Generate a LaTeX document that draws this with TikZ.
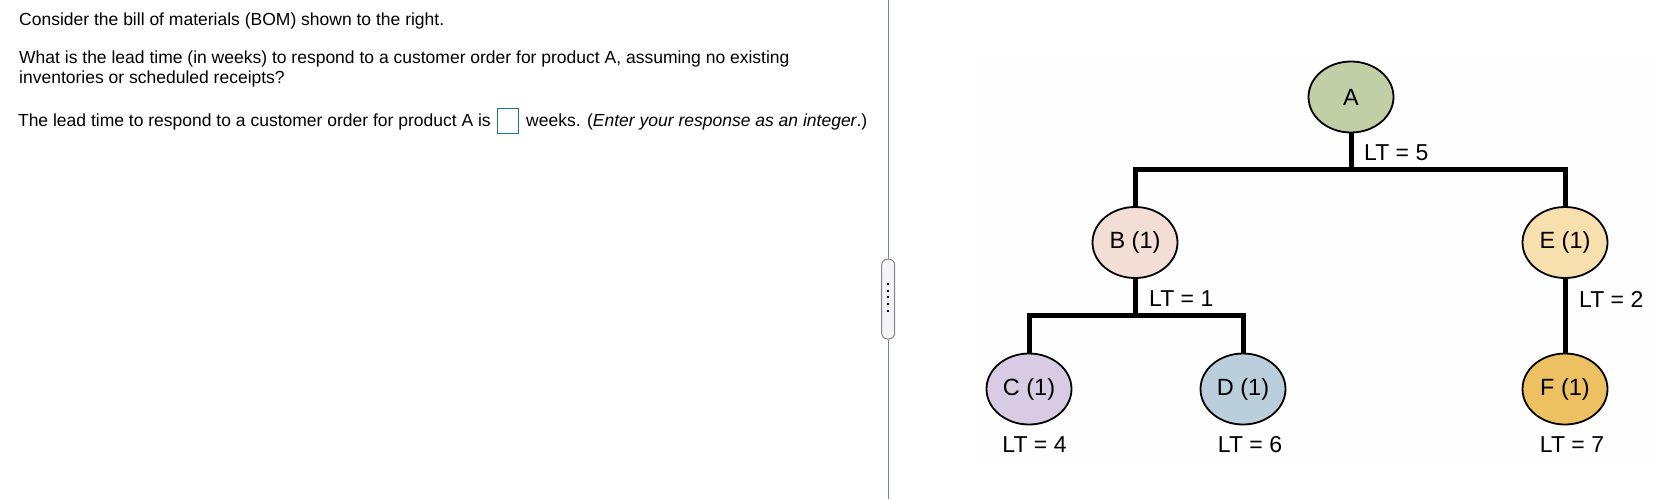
\documentclass[tikz,border=0pt]{standalone}
\usepackage{fontspec}
\setmainfont{Liberation Sans}
\usetikzlibrary{shapes.geometric}
\definecolor{colA}{RGB}{192,207,165}
\definecolor{colB}{RGB}{242,222,213}
\definecolor{colC}{RGB}{216,204,228}
\definecolor{colD}{RGB}{186,207,219}
\definecolor{colE}{RGB}{248,223,174}
\definecolor{colF}{RGB}{237,193,98}
\definecolor{divgray}{RGB}{124,133,145}
\definecolor{boxteal}{RGB}{26,122,154}
\definecolor{panel}{RGB}{254,254,254}
\tikzset{
    item/.style={ellipse, draw=black, line width=1.8pt, minimum width=85pt, minimum height=71pt, inner sep=0pt, font=\fontsize{23.5}{27}\selectfont},
    ltlabel/.style={inner sep=0pt, font=\fontsize{23}{27}\selectfont},
    link/.style={line width=5pt, line join=miter},
    question/.style={anchor=base west, inner sep=0pt, font=\fontsize{17.5}{20}\selectfont}
}
\begin{document}
\begin{tikzpicture}[x=1pt,y=-1pt]
        \useasboundingbox (0,0) rectangle (1655,499);
        \pgfmathsetmacro{\ytop}{169}
        \pgfmathsetmacro{\ymid}{315.5}

        % question text
        \node[question] (q1) at (19,25.7) {Consider the bill of materials (BOM) shown to the right.};
        \node[question] (q2) at (19,63.3) {What is the lead time (in weeks) to respond to a customer order for product A, assuming no existing};
        \node[question] (q3) at (19,83.3) {inventories or scheduled receipts?};
        \node[question, anchor=base east] (q4) at (491,126.7) {The lead time to respond to a customer order for product A is};
        \node[draw=boxteal, line width=1pt, minimum width=21pt, minimum height=25pt, inner sep=0pt] (answer) at (508,121.2) {};
        \node[question] (q5) at (526,126.7) {weeks. (\textit{Enter your response as an integer}.)};

        % divider with handle
        \node[draw=divgray, fill=black!4, line width=1pt, rounded corners=6pt, minimum width=13pt, minimum height=80pt, inner sep=0pt] (handle) at (888.2,299) {};
        \coordinate (divtop) at (888.2,0); \coordinate (divbot) at (888.2,499);
        \draw[divgray, line width=1pt] (divtop) -- (handle.north); \draw[divgray, line width=1pt] (handle.south) -- (divbot);
        \foreach \k in {0,...,4} \fill[blue!60!black] (887.2,282.7+6.8*\k) rectangle ++(2,2);

        % faint panel behind the tree
        \fill[panel] (972,53) rectangle (1655,468);

        % bill of materials
        \node[item, fill=colA] (A) at (1351,97) {A};
        \node[item, fill=colB] (B) at (1135,242.5) {B (1)};
        \node[item, fill=colE] (E) at (1565,242.5) {E (1)};
        \node[item, fill=colC] (C) at (1029,389) {C (1)};
        \node[item, fill=colD] (D) at (1243,389) {D (1)};
        \node[item, fill=colF] (F) at (1565,389) {F (1)};

        \coordinate (barA) at (1351,\ytop); \coordinate (barB) at (1135,\ymid);
        \draw[link] (A) -- (barA);
        \draw[link] (B) |- (barA) -| (E);
        \draw[link] (B) -- (barB);
        \draw[link] (C) |- (barB) -| (D);
        \draw[link] (E) -- (F);

        \node[ltlabel, anchor=west] (ltA) at (1364,152.7) {LT = 5};
        \node[ltlabel, anchor=west] (ltB) at (1149,298.3) {LT = 1};
        \node[ltlabel, anchor=west] (ltE) at (1579,299.3) {LT = 2};
        \node[ltlabel] (ltC) at (1034.5,445) {LT = 4};
        \node[ltlabel] (ltD) at (1250,445) {LT = 6};
        \node[ltlabel] (ltF) at (1572,445) {LT = 7};
    \end{tikzpicture}
\end{document}
